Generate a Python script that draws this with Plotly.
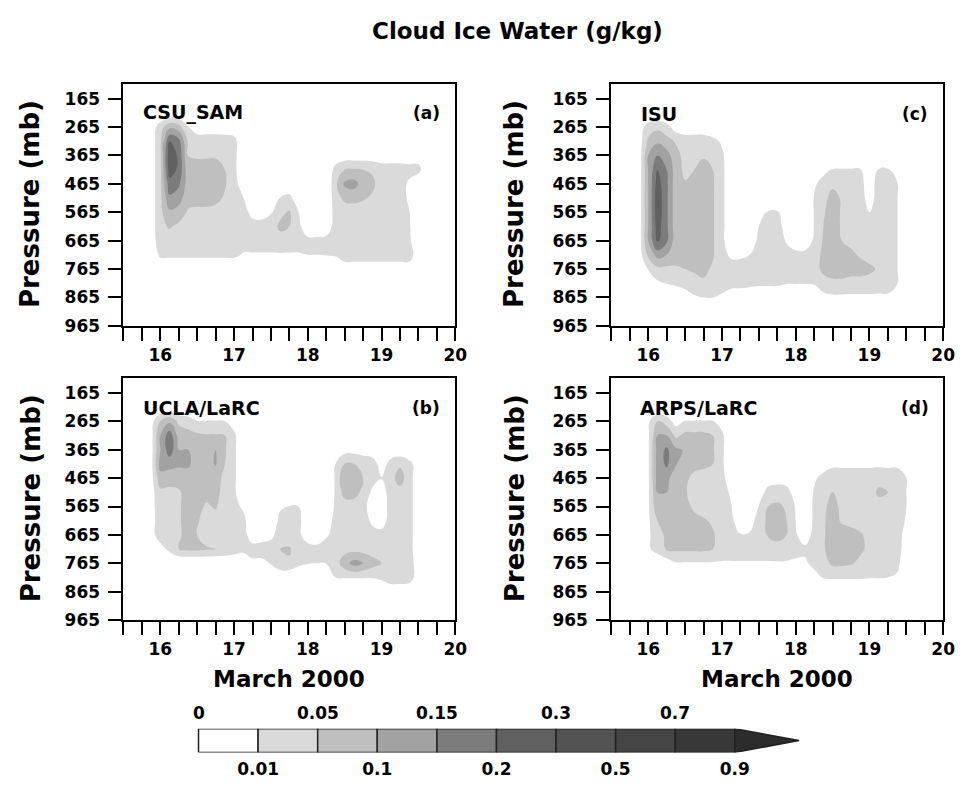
import numpy as np
import plotly.graph_objects as go

# ---------------- grid (time in March 2000, pressure in mb) ----------------
days = [15.75, 15.875, 16.0, 16.125, 16.25, 16.375, 16.5, 16.625, 16.75, 16.875,
        17.0, 17.125, 17.25, 17.375, 17.5, 17.625, 17.75, 17.875, 18.0, 18.125,
        18.25, 18.375, 18.5, 18.625, 18.75, 18.875, 19.0, 19.125, 19.25, 19.375,
        19.5, 19.625]
pressure = [215, 265, 315, 365, 415, 465, 515, 565, 615, 665, 715, 765, 815, 865, 915]

# contour levels (g/kg) and grey shades
levels = [0, 0.01, 0.05, 0.1, 0.15, 0.2, 0.3, 0.5, 0.7, 0.9]
level_colors = ['#ffffff', '#dadada', '#bfbfbf', '#a2a2a2', '#7c7c7c',
                '#606060', '#535353', '#454545', '#383838', '#2c2c2c']
top_labels = ['0', '0.05', '0.15', '0.3', '0.7']
bottom_labels = ['0.01', '0.1', '0.2', '0.5', '0.9']

x_ticks = [15.5, 15.75, 16, 16.25, 16.5, 16.75, 17, 17.25, 17.5, 17.75, 18,
           18.25, 18.5, 18.75, 19, 19.25, 19.5, 19.75, 20]
x_ticktext = ['', '', '16', '', '', '', '17', '', '', '', '18', '', '', '', '19',
              '', '', '', '20']
p_ticks = [165, 265, 365, 465, 565, 665, 765, 865, 965]

# ---------------- cloud ice water fields (rows = pressure, cols = days) ----
csu_sam = [
 [0,0,0,0,0,0,0,0, 0,0,0,0,0,0,0,0, 0,0,0,0,0,0,0,0, 0,0,0,0,0,0,0,0],
 [0,.004,.03,.09,.07,.012,.005,.005, .005,.004,.003,0,0,0,0,0, 0,0,0,0,0,0,0,0, 0,0,0,0,0,0,0,0],
 [0,.004,.04,.2,.17,.045,.03,.03, .03,.03,.025,0,0,0,0,0, 0,0,0,0,0,0,0,0, 0,0,0,0,0,0,0,0],
 [0,.004,.04,.27,.19,.05,.045,.045, .045,.035,.025,0,0,0,0,0, 0,0,0,0,0,.003,.004,.004, .004,.004,.004,.004,.004,.004,.004,0],
 [0,.004,.04,.25,.19,.07,.07,.07, .07,.05,.025,0,0,0,0,0, 0,0,0,0,0,.025,.05,.055, .05,.045,.03,.03,.03,.025,.025,0],
 [0,.004,.04,.18,.16,.075,.075,.075, .07,.055,.025,.005,0,0,0,0, .003,0,0,0,0,.04,.11,.12, .075,.06,.03,.03,.03,.008,0,0],
 [0,.004,.04,.14,.12,.07,.07,.07, .065,.045,.03,.012,0,0,.003,.012, .02,.004,0,0,0,.035,.06,.065, .055,.045,.03,.03,.03,.008,0,0],
 [0,.004,.04,.09,.08,.045,.04,.04, .035,.03,.03,.03,.006,.005,.009,.04, .055,.01,0,0,0,.03,.03,.03, .03,.03,.03,.03,.03,.012,0,0],
 [0,.004,.04,.055,.04,.035,.03,.03, .03,.03,.03,.03,.03,.03,.03,.06, .05,.025,0,0,.003,.03,.03,.03, .03,.03,.03,.03,.03,.015,0,0],
 [0,.004,.035,.03,.03,.03,.03,.03, .03,.03,.03,.03,.03,.03,.03,.035, .03,.03,.025,.025,.025,.03,.03,.03, .03,.03,.03,.03,.03,.02,0,0],
 [0,0,.02,.02,.02,.02,.02,.02, .02,.02,.02,.009,.009,.009,.009,.009, .009,.009,.01,.01,.012,.015,.025,.025, .025,.025,.025,.025,.025,.025,.005,0],
 [0,0,0,0,0,0,0,0, 0,0,0,0,0,0,0,0, 0,0,0,0,0,0,.006,.006, .006,.006,.006,.006,.006,.006,0,0],
 [0,0,0,0,0,0,0,0, 0,0,0,0,0,0,0,0, 0,0,0,0,0,0,0,0, 0,0,0,0,0,0,0,0],
 [0,0,0,0,0,0,0,0, 0,0,0,0,0,0,0,0, 0,0,0,0,0,0,0,0, 0,0,0,0,0,0,0,0],
 [0,0,0,0,0,0,0,0, 0,0,0,0,0,0,0,0, 0,0,0,0,0,0,0,0, 0,0,0,0,0,0,0,0],
]

isu = [
 [0,0,0,0,0,0,0,0, 0,0,0,0,0,0,0,0, 0,0,0,0,0,0,0,0, 0,0,0,0,0,0,0,0],
 [0,.004,.03,.04,.025,.005,.004,.004, .004,0,0,0,0,0,0,0, 0,0,0,0,0,0,0,0, 0,0,0,0,0,0,0,0],
 [0,.004,.06,.09,.07,.045,.03,.03, .03,.025,.008,0,0,0,0,0, 0,0,0,0,0,0,0,0, 0,0,0,0,0,0,0,0],
 [0,.004,.1,.15,.12,.07,.035,.04, .045,.035,.02,0,0,0,0,0, 0,0,0,0,0,0,.002,.002, .002,.002,0,.002,.002,.002,0,0],
 [0,.004,.1,.2,.15,.075,.04,.05, .07,.05,.025,0,0,0,0,0, 0,0,0,0,0,.006,.012,.012, .012,.012,.003,.012,.012,.008,0,0],
 [0,.004,.1,.25,.16,.07,.055,.07, .075,.055,.025,0,0,0,0,0, 0,0,0,0,.008,.03,.04,.03, .025,.025,.004,.03,.03,.012,0,0],
 [0,.004,.1,.27,.16,.07,.07,.07, .075,.055,.025,0,0,0,0,0, .002,0,0,0,.012,.035,.07,.045, .03,.03,.005,.03,.03,.012,0,0],
 [0,.004,.1,.27,.16,.07,.07,.07, .075,.055,.025,0,0,0,0,.015, .015,0,0,0,.012,.045,.075,.045, .03,.03,.01,.03,.03,.012,0,0],
 [0,.004,.1,.25,.16,.07,.07,.07, .075,.055,.025,0,0,0,.01,.03, .03,.005,0,0,.012,.05,.075,.045, .03,.03,.03,.03,.03,.012,0,0],
 [0,.004,.1,.22,.16,.07,.07,.07, .075,.055,.025,0,0,0,.025,.03, .03,.009,.005,.005,.015,.055,.075,.05, .04,.03,.03,.03,.03,.012,0,0],
 [0,.004,.06,.12,.1,.07,.065,.065, .075,.055,.025,.008,.008,.01,.03,.03, .035,.025,.02,.02,.025,.065,.075,.07, .06,.045,.035,.03,.03,.012,0,0],
 [0,0,.012,.04,.04,.045,.05,.06, .06,.045,.025,.03,.03,.03,.03,.05, .045,.03,.03,.03,.03,.065,.075,.075, .07,.07,.06,.045,.03,.012,0,0],
 [0,0,0,.008,.012,.02,.025,.03, .045,.03,.03,.025,.025,.025,.02,.02, .02,.012,.012,.012,.015,.03,.04,.04, .035,.035,.035,.03,.03,.012,0,0],
 [0,0,0,0,0,0,.005,.009, .01,.01,.008,.004,.003,0,0,0, 0,0,0,0,0,.007,.008,.008, .008,.008,.008,.008,.008,.004,0,0],
 [0,0,0,0,0,0,0,0, 0,0,0,0,0,0,0,0, 0,0,0,0,0,0,0,0, 0,0,0,0,0,0,0,0],
]

ucla_larc = [
 [0,0,0,0,0,0,0,0, 0,0,0,0,0,0,0,0, 0,0,0,0,0,0,0,0, 0,0,0,0,0,0,0,0],
 [0,.006,.05,.09,.04,.03,.012,.012, .012,.01,.004,0,0,0,0,0, 0,0,0,0,0,0,0,0, 0,0,0,0,0,0,0,0],
 [0,.006,.1,.18,.08,.07,.06,.055, .055,.05,.02,0,0,0,0,0, 0,0,0,0,0,0,0,0, 0,0,0,0,0,0,0,0],
 [0,.006,.1,.18,.1,.1,.075,.075, .1,.055,.02,0,0,0,0,0, 0,0,0,0,0,0,.006,.006, .005,.004,0,.003,.003,.002,0,0],
 [0,.006,.12,.12,.11,.11,.075,.08, .105,.05,.02,0,0,0,0,0, 0,0,0,0,0,.01,.05,.05, .04,.03,.005,.025,.04,.02,.006,0],
 [0,.006,.08,.07,.07,.075,.075,.075, .07,.04,.02,0,0,0,0,0, 0,0,0,0,0,.015,.1,.1, .05,.025,.012,.03,.08,.02,.006,0],
 [0,.006,.04,.04,.045,.07,.07,.065, .065,.035,.02,0,0,0,0,0, 0,0,0,0,0,.015,.07,.07, .04,.008,.005,.03,.03,.02,.006,0],
 [0,.006,.035,.035,.045,.07,.065,.045, .055,.03,.025,.008,0,0,0,.008, .012,.01,0,0,.004,.015,.03,.03, .03,.003,.003,.03,.03,.02,.006,0],
 [0,.006,.03,.035,.045,.07,.055,.035, .035,.03,.03,.025,0,0,0,.025, .03,.025,0,0,.008,.015,.03,.03, .03,.008,.005,.03,.03,.02,.006,0],
 [0,.006,.03,.03,.045,.065,.05,.035, .03,.03,.03,.025,.005,.006,.008,.025, .03,.02,.004,0,.009,.02,.03,.03, .03,.025,.025,.03,.03,.02,.006,0],
 [0,0,.006,.02,.05,.06,.06,.055, .05,.045,.035,.025,.025,.025,.025,.05, .055,.03,.03,.03,.025,.03,.035,.035, .035,.03,.03,.03,.03,.02,.006,0],
 [0,0,0,0,0,0,0,0, 0,0,0,0,.008,.008,.012,.045, .045,.02,.012,.01,.012,.03,.08,.12, .1,.07,.05,.045,.04,.025,.006,0],
 [0,0,0,0,0,0,0,0, 0,0,0,0,0,0,0,0, 0,0,0,0,0,.01,.012,.012, .012,.012,.02,.03,.03,.025,.006,0],
 [0,0,0,0,0,0,0,0, 0,0,0,0,0,0,0,0, 0,0,0,0,0,0,0,0, 0,0,0,.004,.004,.004,0,0],
 [0,0,0,0,0,0,0,0, 0,0,0,0,0,0,0,0, 0,0,0,0,0,0,0,0, 0,0,0,0,0,0,0,0],
]

arps_larc = [
 [0,0,0,0,0,0,0,0, 0,0,0,0,0,0,0,0, 0,0,0,0,0,0,0,0, 0,0,0,0,0,0,0,0],
 [0,0,.008,.05,.03,.006,.012,.012, .012,.012,.005,0,0,0,0,0, 0,0,0,0,0,0,0,0, 0,0,0,0,0,0,0,0],
 [0,0,.008,.1,.1,.04,.065,.065, .065,.05,.02,0,0,0,0,0, 0,0,0,0,0,0,0,0, 0,0,0,0,0,0,0,0],
 [0,0,.008,.12,.16,.11,.095,.07, .07,.055,.02,0,0,0,0,0, 0,0,0,0,0,0,0,0, 0,0,0,0,0,0,0,0],
 [0,0,.008,.12,.16,.105,.07,.065, .06,.05,.02,0,0,0,0,0, 0,0,0,0,0,.004,.008,.008, .008,.008,.008,.008,.008,.008,.005,0],
 [0,0,.008,.12,.12,.06,.06,.04, .035,.03,.025,.003,0,0,0,.004, .006,.005,0,0,.008,.025,.03,.03, .03,.03,.03,.035,.03,.03,.01,0],
 [0,0,.008,.1,.1,.055,.055,.035, .03,.03,.03,.008,0,0,.004,.025, .03,.025,.005,0,.015,.03,.05,.045, .03,.03,.03,.06,.05,.03,.01,0],
 [0,0,.008,.09,.09,.06,.06,.045, .035,.03,.03,.012,0,0,.012,.05, .06,.045,.009,0,.02,.04,.07,.04, .03,.03,.03,.035,.03,.03,.01,0],
 [0,0,.008,.05,.06,.06,.065,.06, .055,.045,.03,.02,.004,.005,.03,.06, .07,.05,.01,0,.02,.045,.07,.045, .04,.035,.03,.03,.03,.03,.009,0],
 [0,0,.008,.035,.06,.065,.07,.07, .065,.055,.035,.025,.012,.015,.03,.055, .065,.05,.015,.004,.025,.045,.075,.07, .065,.055,.04,.03,.03,.03,.006,0],
 [0,0,.008,.03,.055,.06,.06,.06, .06,.05,.03,.03,.03,.03,.03,.03, .035,.03,.025,.02,.03,.045,.075,.075, .07,.06,.04,.03,.03,.03,.004,0],
 [0,0,0,0,.004,.009,.009,.009, .009,.009,.009,.009,.009,.009,.009,.009, .009,.009,.008,.008,.025,.035,.06,.06, .055,.04,.03,.03,.03,.025,0,0],
 [0,0,0,0,0,0,0,0, 0,0,0,0,0,0,0,0, 0,0,0,0,.005,.012,.015,.015, .015,.015,.012,.012,.01,.008,0,0],
 [0,0,0,0,0,0,0,0, 0,0,0,0,0,0,0,0, 0,0,0,0,0,0,0,0, 0,0,0,0,0,0,0,0],
 [0,0,0,0,0,0,0,0, 0,0,0,0,0,0,0,0, 0,0,0,0,0,0,0,0, 0,0,0,0,0,0,0,0],
]

# ---------------- figure geometry (pixels of a 971 x 794 canvas) -----------
W, H = 971, 794
def px_x(a, b):
    return [a / W, b / W]
def px_y(top, bottom):
    return [1 - bottom / H, 1 - top / H]

panels = [
    # name, tag, data, axis suffix, x-domain px, y-domain px, name x px, tag right px, label y px
    ("CSU_SAM", "(a)", csu_sam, "", (125, 461), (85, 330), 143, 448, 114),
    ("ISU", "(c)", isu, "2", (619, 955), (85, 330), 647, 942, 115),
    ("UCLA/LaRC", "(b)", ucla_larc, "3", (125, 461), (383, 628), 143, 448, 413),
    ("ARPS/LaRC", "(d)", arps_larc, "4", (619, 955), (383, 628), 646, 943, 413),
]

FONT = "DejaVu Sans"
tickfont = dict(family=FONT, size=17, color="black", weight="bold")

idx_levels = list(range(len(levels)))
nlev = len(levels) - 1
colorscale = [[k / nlev, c] for k, c in enumerate(level_colors)]

fig = go.Figure()
layout = dict(width=W, height=H, margin=dict(l=0, r=0, t=0, b=0),
              paper_bgcolor="white", plot_bgcolor="white", showlegend=False,
              font=dict(family=FONT, color="black"))
annotations = []

for name, tag, data, sfx, xd, yd, nx, tx, ly in panels:
    z = np.interp(np.array(data, dtype=float), levels, idx_levels)
    fig.add_trace(go.Contour(
        x=days, y=pressure, z=z,
        xaxis="x" + sfx, yaxis="y" + sfx,
        autocontour=False,
        contours=dict(start=1, end=nlev, size=1, coloring="fill", showlines=False),
        colorscale=colorscale, zmin=0.5, zmax=nlev + 0.5,
        line=dict(width=0, smoothing=1.3),
        showscale=False, hoverinfo="skip"))
    anchor_y = "y" + sfx
    anchor_x = "x" + sfx
    layout["xaxis" + sfx] = dict(
        domain=px_x(*xd), range=[15.5, 20], anchor=anchor_y,
        tickvals=x_ticks, ticktext=x_ticktext, ticks="outside", ticklen=13,
        tickwidth=2, tickcolor="black", showline=True, linewidth=2,
        linecolor="black", mirror=True, showgrid=False, zeroline=False,
        tickfont=tickfont, ticklabelstandoff=0)
    layout["yaxis" + sfx] = dict(
        domain=px_y(*yd), range=[965, 113], anchor=anchor_x,
        tickvals=p_ticks, ticks="outside", ticklen=13, tickwidth=2,
        tickcolor="black", showline=True, linewidth=2, linecolor="black",
        mirror=True, showgrid=False, zeroline=False, tickfont=tickfont,
        ticklabelstandoff=5)
    annotations.append(dict(text=name, x=nx / W, y=1 - ly / H, xref="paper",
                            yref="paper", xanchor="left", yanchor="middle",
                            showarrow=False,
                            font=dict(family=FONT, size=19, color="black", weight="bold")))
    annotations.append(dict(text=tag, x=tx / W, y=1 - ly / H, xref="paper",
                            yref="paper", xanchor="right", yanchor="middle",
                            showarrow=False,
                            font=dict(family=FONT, size=17, color="black", weight="bold")))

# axis titles
for xc, yc in [(31, 207), (521, 207), (31, 505), (521, 505)]:
    annotations.append(dict(text="Pressure (mb)", x=xc / W, y=1 - yc / H,
                            xref="paper", yref="paper", textangle=-90,
                            xanchor="center", yanchor="middle", showarrow=False,
                            font=dict(family=FONT, size=26, color="black", weight="bold")))
for xc in [293, 787]:
    annotations.append(dict(text="March 2000", x=xc / W, y=1 - 688 / H,
                            xref="paper", yref="paper", xanchor="center",
                            yanchor="middle", showarrow=False,
                            font=dict(family=FONT, size=23, color="black", weight="bold")))
annotations.append(dict(text="Cloud Ice Water (g/kg)", x=524 / W, y=1 - 31 / H,
                        xref="paper", yref="paper", xanchor="center",
                        yanchor="middle", showarrow=False,
                        font=dict(family=FONT, size=23, color="black", weight="bold")))

# ---------------- colour bar (boxes + arrow) ------------------------------
box_px = (744 - 201) / nlev
cb_left, cb_right = 195, 815
cb_range = [(cb_left - 201) / box_px, (cb_right - 201) / box_px]
for k in range(nlev):
    fig.add_trace(go.Scatter(
        x=[k, k + 1, k + 1, k, k], y=[0, 0, 1, 1, 0], mode="lines",
        fill="toself", fillcolor=level_colors[k],
        line=dict(color="#222222", width=1.5), xaxis="x5", yaxis="y5",
        hoverinfo="skip", cliponaxis=False))
tip = nlev + 65 / box_px
fig.add_trace(go.Scatter(
    x=[nlev, tip, nlev, nlev], y=[0, 0.5, 1, 0], mode="lines", fill="toself",
    fillcolor=level_colors[-1], line=dict(color="#222222", width=1.5),
    xaxis="x5", yaxis="y5", hoverinfo="skip", cliponaxis=False))

# labels above the bar (level boundaries 0, 0.05, 0.15, 0.3, 0.7)
for pos, lab in zip(idx_levels[0::2], top_labels):
    annotations.append(dict(text=lab, x=pos, y=1, xref="x5", yref="y5",
                            xanchor="center", yanchor="bottom", yshift=4,
                            showarrow=False, font=tickfont))

cb_dom = px_x(cb_left, cb_right)
layout["xaxis5"] = dict(domain=cb_dom, range=cb_range, anchor="y5",
                        tickvals=idx_levels[1::2], ticktext=bottom_labels,
                        ticks="", ticklen=0, showline=False, showgrid=False,
                        zeroline=False, tickfont=tickfont, ticklabelstandoff=5)
layout["yaxis5"] = dict(domain=px_y(738, 762), range=[0, 1], anchor="x5",
                        visible=False)
layout["annotations"] = annotations
fig.update_layout(**layout)

fig.write_html("out.html")
